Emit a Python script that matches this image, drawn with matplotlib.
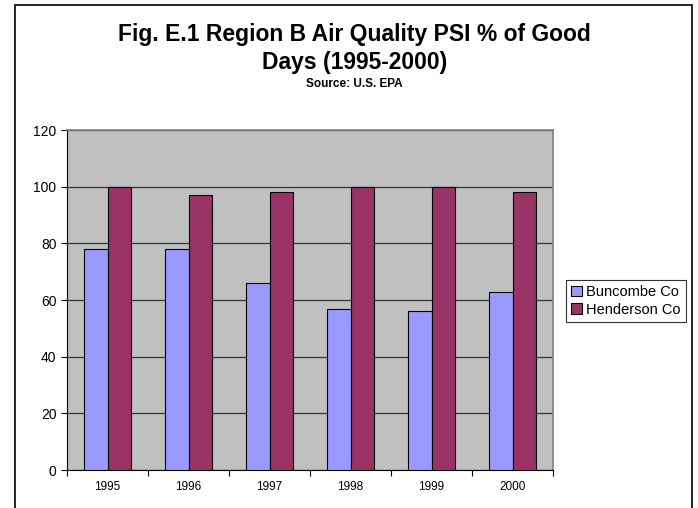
import numpy as np
import matplotlib.pyplot as plt
from matplotlib.patches import Rectangle

years = ['1995', '1996', '1997', '1998', '1999', '2000']
buncombe = [78, 78, 66, 57, 56, 63]
henderson = [100, 97, 98, 100, 100, 98]

fig = plt.figure(figsize=(6.98, 5.08), dpi=100)
plt.rcParams['font.family'] = ['Liberation Sans', 'DejaVu Sans']

# outer chart border
fig.patches.append(Rectangle((15 / 698, -0.1), (692 - 15) / 698, (503 + 51) / 508,
                             transform=fig.transFigure, fill=False,
                             edgecolor='black', linewidth=1.2))

ax = fig.add_axes([67 / 698, 38 / 508, (553 - 67) / 698, 340 / 508])
ax.set_facecolor('#C0C0C0')

x = np.arange(len(years))
w = 0.286
ax.bar(x - w / 2, buncombe, w, color='#9999FF', edgecolor='black', linewidth=0.8,
       label='Buncombe Co', zorder=3)
ax.bar(x + w / 2, henderson, w, color='#993366', edgecolor='black', linewidth=0.8,
       label='Henderson Co', zorder=3)

ax.set_xlim(-0.5, len(years) - 0.5)
ax.set_ylim(0, 120)
ax.set_yticks(range(0, 121, 20))
ax.tick_params(axis='y', labelsize=10, direction='out', length=4, width=0.8)
ax.yaxis.grid(True, color='#333333', linewidth=0.9, zorder=1)

ax.set_xticks(x)
ax.set_xticklabels(years, fontsize=8.5)
ax.tick_params(axis='x', length=0, pad=8)
ax.set_xticks(np.arange(-0.5, len(years), 1), minor=True)
ax.tick_params(axis='x', which='minor', length=4, width=0.8, direction='out')

for s in ['top', 'right']:
    ax.spines[s].set_color('#808080')
    ax.spines[s].set_linewidth(1.2)
ax.spines['left'].set_linewidth(0.8)
ax.spines['bottom'].set_linewidth(0.8)

fig.text(0.508, 1 - 35 / 508, 'Fig. E.1 Region B Air Quality PSI % of Good',
         ha='center', va='center', fontsize=16.5, fontweight='bold')
fig.text(0.508, 1 - 62 / 508, 'Days (1995-2000)',
         ha='center', va='center', fontsize=16.5, fontweight='bold')
fig.text(0.508, 1 - 84 / 508, 'Source: U.S. EPA',
         ha='center', va='center', fontsize=8.5, fontweight='bold')

leg = ax.legend(loc='center left', bbox_to_anchor=(566 / 698, 1 - 301 / 508),
                bbox_transform=fig.transFigure, fontsize=10.5, frameon=True,
                fancybox=False, edgecolor='black', handlelength=0.75,
                handleheight=0.75, handletextpad=0.3, borderpad=0.35,
                labelspacing=0.25, borderaxespad=0)
leg.get_frame().set_linewidth(0.8)

fig.savefig('out.png', dpi=100)
